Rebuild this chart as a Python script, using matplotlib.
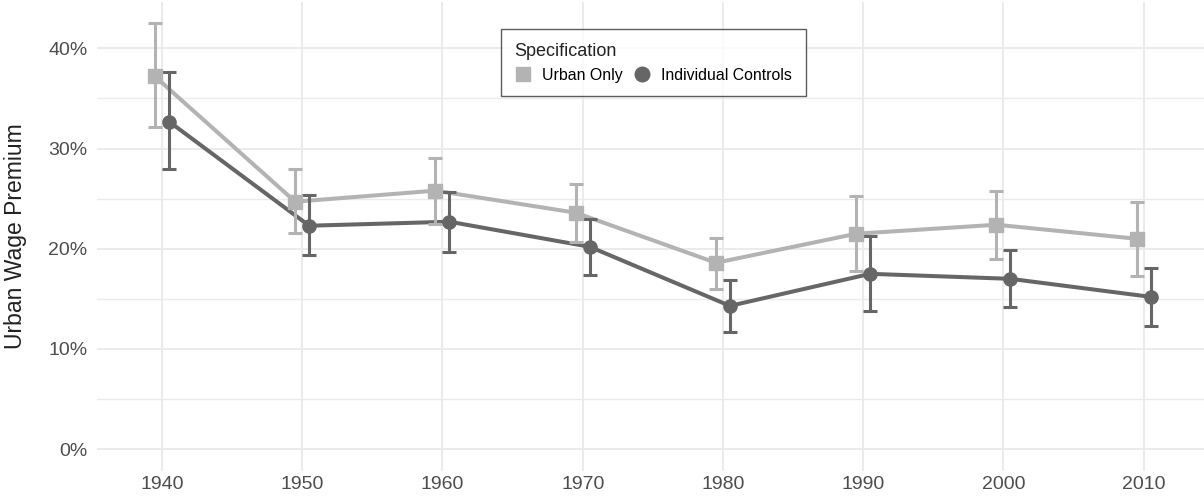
import matplotlib
matplotlib.use("Agg")
import matplotlib.pyplot as plt
import numpy as np
from matplotlib.lines import Line2D
from matplotlib.ticker import FuncFormatter, MultipleLocator

plt.rcParams["font.family"] = ["Liberation Sans", "DejaVu Sans"]

years = ["1940", "1950", "1960", "1970", "1980", "1990", "2000", "2010"]

# urban-only specification: estimate with lower / upper bounds
urban_est = [0.372, 0.247, 0.258, 0.236, 0.186, 0.215, 0.224, 0.210]
urban_lo = [0.322, 0.216, 0.225, 0.207, 0.160, 0.178, 0.190, 0.173]
urban_hi = [0.425, 0.280, 0.291, 0.265, 0.211, 0.253, 0.258, 0.247]

# with individual controls
ctrl_est = [0.327, 0.223, 0.227, 0.202, 0.143, 0.175, 0.170, 0.152]
ctrl_lo = [0.280, 0.194, 0.197, 0.174, 0.117, 0.138, 0.142, 0.123]
ctrl_hi = [0.376, 0.254, 0.257, 0.230, 0.169, 0.213, 0.199, 0.181]

LIGHT = "#b3b3b3"
DARK = "#666666"
GRID = "#ebebeb"

fig = plt.figure(figsize=(12.04, 5.0), dpi=100)
ax = fig.add_axes([97 / 1204, 29.5 / 500, 1 - 97 / 1204, 468.5 / 500])

x = np.arange(len(years))
dodge = 0.05
series = [
    ("Urban Only", urban_est, urban_lo, urban_hi, LIGHT, "s", -dodge),
    ("Individual Controls", ctrl_est, ctrl_lo, ctrl_hi, DARK, "o", dodge),
]

for label, est, lo, hi, col, mk, off in series:
    est = np.array(est)
    err = [est - np.array(lo), np.array(hi) - est]
    xs = x + off
    ax.plot(xs, est, color=col, lw=2.9, zorder=2, solid_capstyle="butt")
    ax.errorbar(xs, est, yerr=err, fmt="none", ecolor=col, elinewidth=2.2,
                capsize=4.8, capthick=2.2, zorder=3)
    ax.plot(xs, est, ls="none", marker=mk, ms=9.5, color=col, mec=col, zorder=4)

ax.set_xlim(-0.463, 7.43)
ax.set_ylim(-0.0213, 0.4463)
ax.set_xticks(x)
ax.set_xticklabels(years)
ax.yaxis.set_major_locator(MultipleLocator(0.10))
ax.yaxis.set_minor_locator(MultipleLocator(0.05))
ax.yaxis.set_major_formatter(FuncFormatter(lambda v, _: f"{v * 100:.0f}%"))

ax.grid(True, which="major", color=GRID, lw=1.4)
ax.grid(True, which="minor", axis="y", color=GRID, lw=1.0)
ax.set_axisbelow(True)
for s in ax.spines.values():
    s.set_visible(False)
ax.tick_params(which="both", length=0)
ax.tick_params(axis="y", pad=7, labelsize=14, labelcolor="#4d4d4d")
ax.tick_params(axis="x", pad=4, labelsize=14, labelcolor="#4d4d4d")

fig.text(16 / 1204, 0.528, "Urban Wage Premium", rotation=90, ha="center",
         va="center", fontsize=16.5, color="#222222")

handles = [
    Line2D([], [], ls="none", marker="s", ms=10, color=LIGHT),
    Line2D([], [], ls="none", marker="o", ms=10.5, color=DARK),
]
leg = ax.legend(handles, ["Urban Only", "Individual Controls"], title="Specification",
                ncol=2, loc="upper left", bbox_to_anchor=(501 / 1204, 1 - 29 / 500),
                bbox_transform=fig.transFigure, fontsize=11.4, title_fontsize=13,
                alignment="left", frameon=True, fancybox=False, borderpad=0.86,
                handlelength=1.0, handletextpad=0.72, columnspacing=0.72,
                borderaxespad=0)
leg.get_frame().set_edgecolor("#333333")
leg.get_frame().set_linewidth(1.0)
leg.get_title().set_color("#222222")

fig.savefig("out.png", dpi=100)
